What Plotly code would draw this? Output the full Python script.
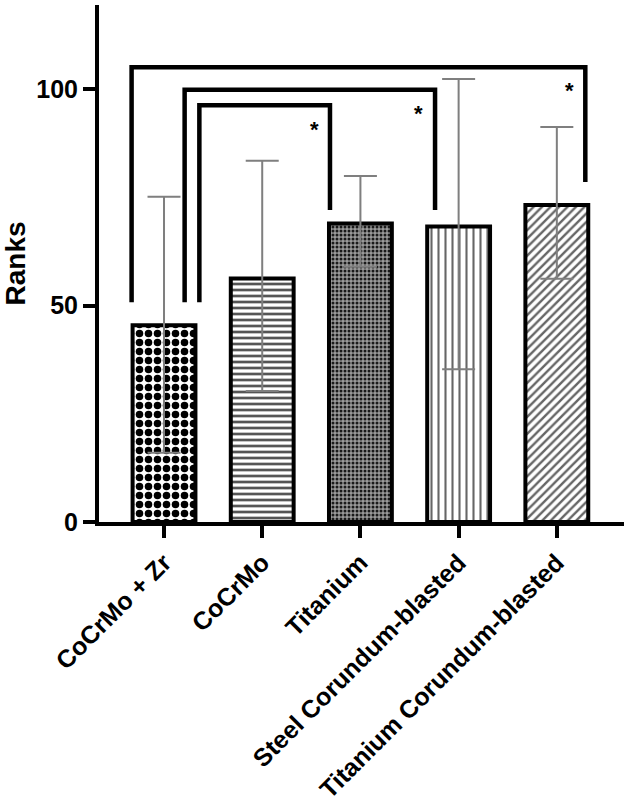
import plotly.graph_objects as go

# ---- data ----
categories = ["CoCrMo + Zr", "CoCrMo", "Titanium",
              "Steel Corundum-blasted", "Titanium Corundum-blasted"]
ranks = [45.5, 56.3, 69.0, 68.3, 73.3]
err_upper = [75.2, 83.5, 80.0, 102.4, 91.3]   # upper end of error bar
err_lower = [16.0, 30.3, 59.0, 35.3, 56.2]    # lower end of error bar
y_ticks = [0, 50, 100]

# significance brackets (outer, middle, inner)
bracket_left_x = [-0.33, 0.21, 0.36]
bracket_right_x = [4.29, 2.76, 1.69]
bracket_top = [105.1, 99.9, 96.3]
bracket_left_bottom = [50.8, 50.8, 50.8]
bracket_right_bottom = [78.6, 72.1, 72.1]
star_x = [1.53, 2.59, 4.13]
star_y = [92.2, 95.9, 101.1]
star_text = ["*", "*", "*"]

# ---- styling ----
pat_shape = [".", "-", ".", "|", "/"]
pat_size = [9, 6, 4, 7, 6]
pat_solid = [0.55, 0.45, 0.45, 0.3, 0.4]
pat_fg = ["#000000", "#555555", "#1a1a1a", "#666666", "#666666"]
pat_bg = ["white", "white", "#9a9a9a", "white", "white"]

x_pos = list(range(len(categories)))
err_plus = [u - v for u, v in zip(err_upper, ranks)]
err_minus = [v - l for v, l in zip(ranks, err_lower)]

FONT = "Liberation Sans, Arial, sans-serif"

fig = go.Figure()
fig.add_trace(go.Bar(
    x=x_pos, y=ranks, width=0.64,
    marker=dict(color="white",
                line=dict(color="black", width=4),
                pattern=dict(shape=pat_shape, size=pat_size,
                             solidity=pat_solid, fgcolor=pat_fg,
                             bgcolor=pat_bg, fillmode="replace")),
    error_y=dict(type="data", symmetric=False, array=err_plus,
                 arrayminus=err_minus, color="#7f7f7f",
                 thickness=2, width=16.5),
    showlegend=False, hoverinfo="skip",
))

for lx, rx, top, lb, rb in zip(bracket_left_x, bracket_right_x, bracket_top,
                               bracket_left_bottom, bracket_right_bottom):
    fig.add_trace(go.Scatter(
        x=[lx, lx, rx, rx], y=[lb, top, top, rb], mode="lines",
        line=dict(color="black", width=4.5),
        showlegend=False, hoverinfo="skip", cliponaxis=False,
    ))

for sx, sy, st in zip(star_x, star_y, star_text):
    fig.add_annotation(x=sx, y=sy, text="<b>%s</b>" % st, showarrow=False,
                       font=dict(family=FONT, size=22, color="black"),
                       xanchor="center", yanchor="middle", yshift=-6)

fig.update_layout(
    width=628, height=812,
    margin=dict(l=99, r=4, t=5, b=290, autoexpand=False),
    paper_bgcolor="white", plot_bgcolor="white",
    font=dict(family=FONT, color="black"),
    bargap=0.3,
)
fig.update_xaxes(
    range=[-0.662, 4.684], tickmode="array", tickvals=x_pos,
    ticktext=["<b>%s</b>" % c for c in categories],
    tickangle=-45, tickfont=dict(family=FONT, size=25, color="black"),
    showline=True, linecolor="black", linewidth=4,
    ticks="outside", ticklen=12, tickwidth=4, tickcolor="black",
    showgrid=False, zeroline=False, automargin=False,
)
fig.update_yaxes(
    range=[0, 119.5], tickmode="array", tickvals=y_ticks,
    ticktext=["<b>%d</b>" % t for t in y_ticks],
    tickfont=dict(family=FONT, size=25, color="black"),
    title=dict(text="<b>Ranks</b>", font=dict(family=FONT, size=28, color="black"), standoff=8),
    showline=True, linecolor="black", linewidth=4,
    ticks="outside", ticklen=12, tickwidth=4, tickcolor="black",
    showgrid=False, zeroline=False, automargin=False,
)

fig.write_html("out.html", config={"displayModeBar": False},
               post_script="document.body.style.margin='0';document.body.style.overflow='hidden';")
